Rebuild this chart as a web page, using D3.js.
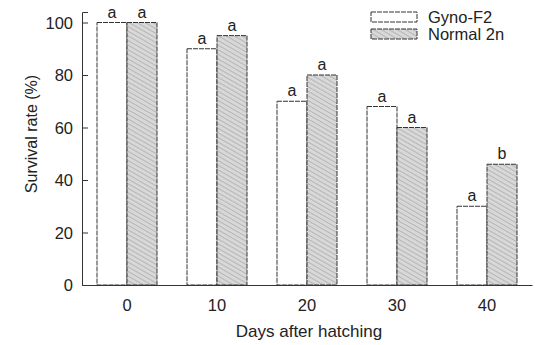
<!DOCTYPE html>
<html>
<head>
<meta charset="utf-8">
<script src="https://cdn.jsdelivr.net/npm/d3@7"></script>
<style>
  body { margin: 0; background: #fff; }
  text { font-family: "Liberation Sans", Arial, sans-serif; fill: #222; }
</style>
</head>
<body>
<div id="chart"></div>
<script>
// data
var days = ["0", "10", "20", "30", "40"]
var gynoF2 = [100, 90, 70, 68, 30]
var normal2n = [100, 95, 80, 60, 46]
var gynoLetters = ["a", "a", "a", "a", "a"]
var normalLetters = ["a", "a", "a", "a", "b"]
var seriesNames = ["Gyno-F2", "Normal 2n"]
var yTicks = [0, 20, 40, 60, 80, 100]

var width = 535,
    height = 345

var svg = d3.select("#chart")
  .append("svg")
    .attr("width", width)
    .attr("height", height)

// hatched grey fill for the Normal 2n bars
var defs = svg.append("defs")
var pat = defs.append("pattern")
    .attr("id", "hatch")
    .attr("patternUnits", "userSpaceOnUse")
    .attr("width", 4)
    .attr("height", 4)
    .attr("patternTransform", "rotate(-60)")
pat.append("rect").attr("width", 4).attr("height", 4).attr("fill", "#d8d8d8")
pat.append("line")
    .attr("x1", 0).attr("y1", 0).attr("x2", 0).attr("y2", 4)
    .attr("stroke", "#a0a0a0").attr("stroke-width", 1.2)

// scales
var x = d3.scaleBand()
    .domain(days)
    .range([82, 532])
    .paddingInner(1 / 3)
    .paddingOuter(1 / 6)

var xSub = d3.scaleBand()
    .domain(seriesNames)
    .range([0, x.bandwidth()])

var y = d3.scaleLinear()
    .domain([0, 104])
    .range([285, 12])

var rows = days.map(function(d, i) {
  return [
    {day: d, key: seriesNames[0], value: gynoF2[i], letter: gynoLetters[i]},
    {day: d, key: seriesNames[1], value: normal2n[i], letter: normalLetters[i]}
  ]
})

var fills = {"Gyno-F2": "#fff", "Normal 2n": "url(#hatch)"}

// bars
var groups = svg.selectAll("g.grp")
  .data(rows)
  .enter()
  .append("g")
    .attr("class", "grp")
    .attr("transform", function(d) { return "translate(" + x(d[0].day) + ",0)" })

groups.selectAll("rect")
  .data(function(d) { return d })
  .enter()
  .append("rect")
    .attr("x", function(d) { return xSub(d.key) })
    .attr("y", function(d) { return y(d.value) })
    .attr("width", xSub.bandwidth())
    .attr("height", function(d) { return y(0) - y(d.value) })
    .attr("fill", function(d) { return fills[d.key] })
    .attr("stroke", "#333")
    .attr("stroke-width", 1)
    .attr("stroke-dasharray", "5,1")

// significance letters
groups.selectAll("text.letter")
  .data(function(d) { return d })
  .enter()
  .append("text")
    .attr("class", "letter")
    .attr("x", function(d) { return xSub(d.key) + xSub.bandwidth() / 2 })
    .attr("y", function(d) { return y(d.value) - 5 })
    .attr("text-anchor", "middle")
    .style("font-size", "16px")
    .text(function(d) { return d.letter })

// y axis, ticks pointing inward
var yAxis = svg.append("g")
    .attr("transform", "translate(82,0)")
    .call(d3.axisRight(y).tickValues(yTicks).tickSize(6).tickFormat(""))
yAxis.select(".domain").attr("stroke", "#333")
yAxis.selectAll(".tick line").attr("stroke", "#333")

svg.selectAll("text.ylab")
  .data(yTicks)
  .enter()
  .append("text")
    .attr("class", "ylab")
    .attr("x", 73)
    .attr("y", function(d) { return y(d) + 6 })
    .attr("text-anchor", "end")
    .style("font-size", "16.5px")
    .text(function(d) { return d })

// x axis, no ticks
var xAxis = svg.append("g")
    .attr("transform", "translate(0," + y(0) + ")")
    .call(d3.axisBottom(x).tickSize(0).tickPadding(14))
xAxis.select(".domain").attr("stroke", "#333")
xAxis.selectAll("text")
    .style("font-size", "16.5px")
    .style("font-family", "Liberation Sans, Arial, sans-serif")
    .attr("fill", "#222")

// axis titles
svg.append("text")
    .attr("transform", "translate(37,134) rotate(-90)")
    .attr("text-anchor", "middle")
    .style("font-size", "16px")
    .text("Survival rate (%)")

svg.append("text")
    .attr("x", 309)
    .attr("y", 337)
    .attr("text-anchor", "middle")
    .style("font-size", "17px")
    .text("Days after hatching")

// legend
var legend = svg.selectAll("g.legend")
  .data(seriesNames)
  .enter()
  .append("g")
    .attr("class", "legend")
    .attr("transform", function(d, i) { return "translate(371," + (12 + i * 17) + ")" })

legend.append("rect")
    .attr("width", 46)
    .attr("height", 10)
    .attr("fill", function(d) { return fills[d] })
    .attr("stroke", "#333")
    .attr("stroke-dasharray", "5,1")

legend.append("text")
    .attr("x", 57)
    .attr("y", 11)
    .style("font-size", "16.5px")
    .text(function(d) { return d })
</script>
</body>
</html>
